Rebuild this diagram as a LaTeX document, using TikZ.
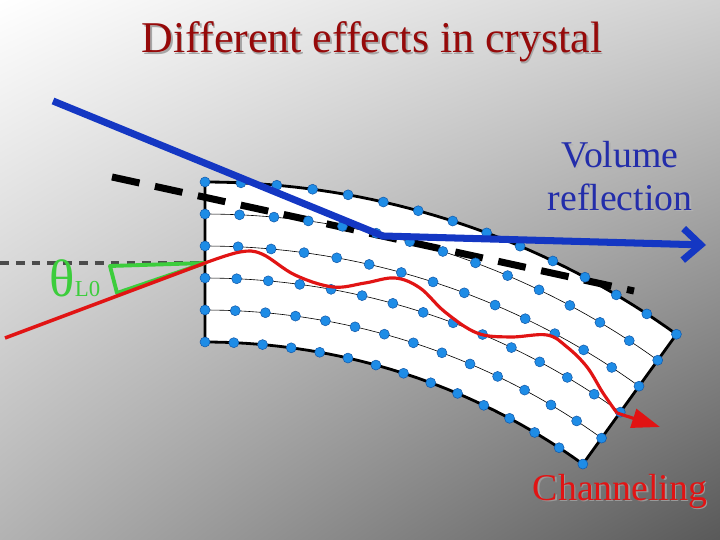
\documentclass[tikz,border=0pt]{standalone}
\usepackage{fontspec}
\setmainfont{Liberation Serif}
\usetikzlibrary{arrows.meta,shadings}
\definecolor{dotblue}{RGB}{30,140,230}
\definecolor{dotedge}{RGB}{20,90,170}
\definecolor{beamblue}{RGB}{20,55,195}
\definecolor{titlered}{RGB}{150,10,10}
\definecolor{chred}{RGB}{225,20,20}
\definecolor{angreen}{RGB}{60,205,60}
\definecolor{txtblue}{RGB}{35,45,170}
\tikzset{
  atom/.style={circle,fill=dotblue,draw=dotedge,line width=0.3pt,inner sep=0pt,minimum size=0.2cm},
  plane/.style={line width=0.35pt,black},
  edge/.style={line width=1.6pt,black},
  label/.style={font=\fontsize{21.5}{24}\selectfont,align=center,inner sep=0pt},
}
\begin{document}
\begin{tikzpicture}[x=0.02cm,y=-0.02cm]
\useasboundingbox (0,0) rectangle (720,540);
\shade[upper left=white,upper right=black!18,lower left=black!30,lower right=black!65] (0,0) rectangle (720,540);
% crystal body
\def\amin{54.2}
\fill[white] plot[domain=90:\amin,samples=40] ({205+806*cos(\x)},{988-806*sin(\x)})
  -- plot[domain=\amin:90,samples=40] ({205+646*cos(\x)},{988-646*sin(\x)}) -- cycle;
\foreach \r in {774,742,710,678}
  \draw[plane] plot[domain=90:\amin,samples=40] ({205+\r*cos(\x)},{988-\r*sin(\x)});
\draw[edge,line join=round] plot[domain=90:\amin,samples=40] ({205+806*cos(\x)},{988-806*sin(\x)})
  -- plot[domain=\amin:90,samples=40] ({205+646*cos(\x)},{988-646*sin(\x)}) -- cycle;
% dashed tangent
\coordinate (d1) at (112,177); \coordinate (d2) at (634,291);
\draw[line width=4pt,dash pattern=on 16pt off 9pt] (d1) -- (d2);
% horizontal reference
\coordinate (h0) at (0,263); \coordinate (entry) at (205,263);
\draw[black!70,line width=2.2pt,dash pattern=on 5pt off 4pt] (h0) -- (entry);
% atoms
\foreach \r in {806,774,742,710,678,646}
  \foreach \k in {0,...,14}
    \node[atom] at ({205+\r*cos(90-2.557*\k)},{988-\r*sin(90-2.557*\k)}) {};
% green angle
\coordinate (g1) at (110,266); \coordinate (g2) at (117,293);
\draw[angreen,line width=2.2pt,line join=round] (entry) -- (g1) -- (g2) -- cycle;
\node[angreen,inner sep=0pt,anchor=base] (theta) at (75,297)
  {\fontsize{30}{32}\selectfont θ\fontsize{13}{15}\selectfont L0};
% red channeling beam
\coordinate (r0) at (5,338); \coordinate (rend) at (660,427);
\draw[chred,line width=2pt] (r0) -- (entry);
\draw[chred,line width=1.8pt] plot[smooth,tension=0.6] coordinates {(205,263) (240,252) (262,254) (295,275) (333,287) (365,283) (395,278) (420,288) (445,312) (477,333) (510,337) (547,335) (567,347) (587,367) (603,393) (617,413)};
\draw[chred,line width=1.8pt,-{Triangle[length=16pt,width=11pt]}] (617,413) -- (rend);
% blue volume reflection beam
\coordinate (b0) at (53,101); \coordinate (bref) at (383,236); \coordinate (bend) at (706,245);
\draw[beamblue,line width=4pt,line join=round,-{Straight Barb[length=10pt,width=18pt,line width=4pt]}] (b0) -- (bref) -- (bend);
% texts
\node[black!35,font=\fontsize{25}{28}\selectfont] at (373.5,43.5) {Different effects in crystal};
\node[titlered,font=\fontsize{25}{28}\selectfont] (title) at (372,42) {Different effects in crystal};
\node[label,black!30] at (621.5,177.5) {Volume\\reflection};
\node[label,txtblue] (vr) at (620,176) {Volume\\reflection};
\node[label,black!40] at (621.5,492.5) {Channeling};
\node[label,chred] (ch) at (620,491) {Channeling};
\end{tikzpicture}
\end{document}
